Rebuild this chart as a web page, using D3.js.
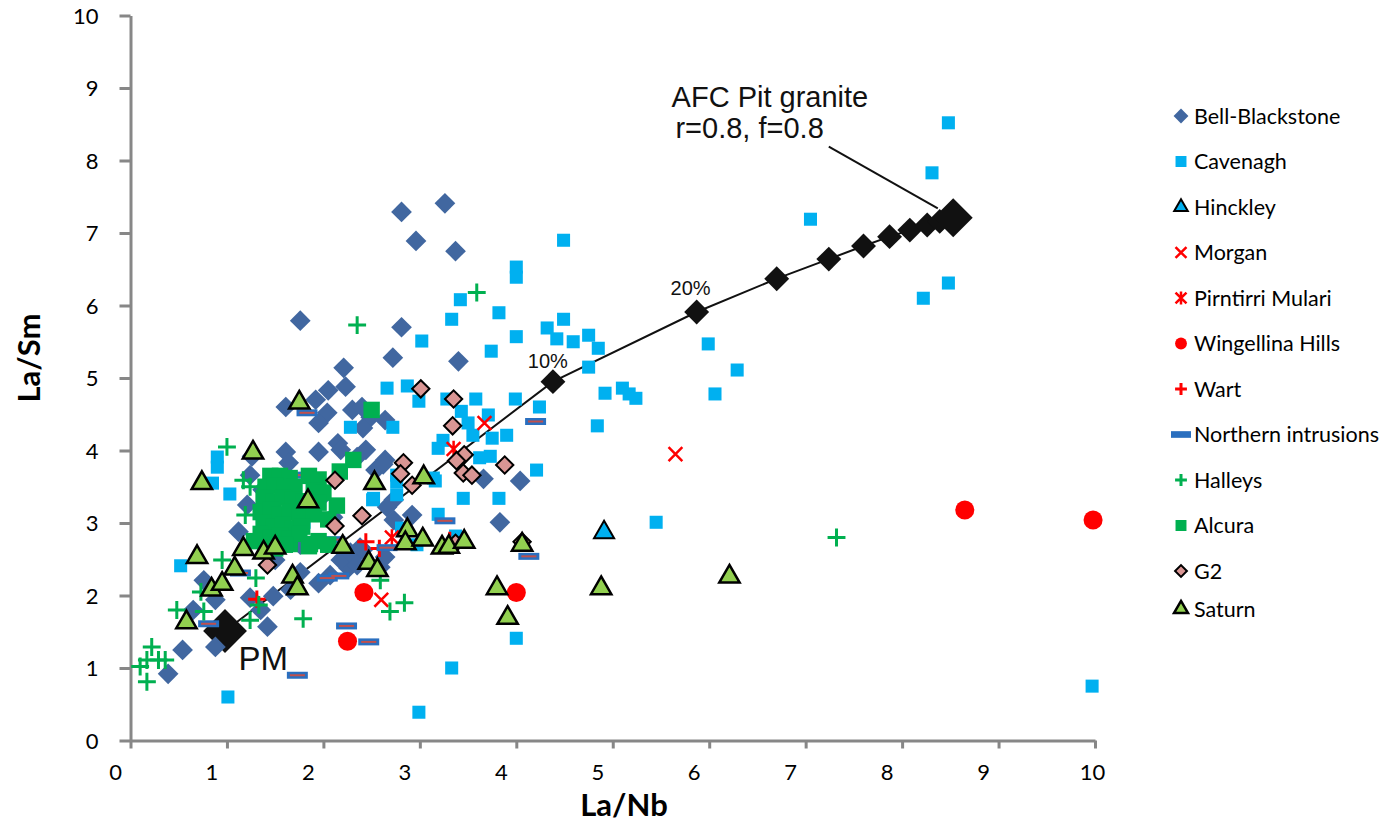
<!DOCTYPE html>
<html>
<head>
<meta charset="utf-8">
<script src="https://cdn.jsdelivr.net/npm/d3@7"></script>
<style>
  html, body { margin: 0; padding: 0; background: #fff; }
  svg { display: block; }
</style>
</head>
<body>
<div id="chart"></div>
<script>
// ---------------- DATA ----------------
const xTicks = [0,1,2,3,4,5,6,7,8,9,10];
const yTicks = [0,1,2,3,4,5,6,7,8,9,10];
const xTitle = "La/Nb";
const yTitle = "La/Sm";

const bellBlackstone = [[2.81,7.29],[3.26,7.41],[2.96,6.89],[3.37,6.75],[1.76,5.79],[2.81,5.70],[2.72,5.28],[3.40,5.23],[2.21,5.14],[2.23,4.88],[2.05,4.83],[1.92,4.70],[1.61,4.60],[2.04,4.52],[1.95,4.38],[2.30,4.56],[2.40,4.60],[2.49,4.46],[2.41,4.31],[2.64,4.42],[2.15,4.10],[2.18,4.01],[1.95,3.98],[1.61,3.98],[1.64,3.83],[1.26,3.92],[2.44,4.01],[2.64,3.87],[2.35,3.91],[2.54,3.73],[3.66,3.61],[4.04,3.58],[2.62,3.81],[2.92,3.11],[3.83,3.01],[2.73,3.32],[2.66,3.22],[2.31,2.53],[2.26,2.38],[2.41,2.63],[1.12,2.88],[1.21,3.25],[0.76,2.21],[0.88,1.94],[0.65,1.80],[0.54,1.25],[0.39,0.92],[0.88,1.29],[1.24,1.97],[1.42,1.57],[1.48,1.99],[1.95,2.17],[1.35,1.80],[2.18,2.49],[2.10,3.08],[2.28,2.59],[2.38,2.66],[2.35,2.42],[2.59,2.39],[2.64,2.53],[2.73,3.04],[1.37,3.46],[1.24,3.66],[1.76,2.70],[1.50,2.49],[1.76,2.32],[1.66,2.08],[1.35,2.77],[2.07,2.28],[1.97,3.34],[1.50,3.11]];

const cavenagh = [[8.48,8.52],[8.31,7.83],[7.05,7.19],[8.22,6.10],[8.48,6.31],[4.49,6.90],[4.00,6.53],[4.00,6.39],[3.42,6.08],[3.33,5.81],[3.82,5.90],[3.02,5.51],[3.74,5.37],[4.00,5.57],[4.32,5.69],[4.49,5.81],[4.42,5.54],[4.59,5.50],[4.75,5.59],[4.85,5.41],[4.75,5.15],[5.99,5.47],[6.29,5.11],[6.06,4.78],[4.92,4.79],[5.10,4.86],[5.17,4.78],[5.24,4.72],[4.84,4.34],[5.45,3.01],[2.66,4.86],[2.87,4.89],[2.99,4.68],[3.28,4.71],[3.58,4.71],[3.99,4.71],[4.24,4.60],[2.28,4.32],[2.72,4.32],[3.43,4.54],[3.50,4.38],[3.71,4.49],[3.55,4.21],[3.75,4.17],[3.90,4.21],[3.24,4.14],[3.19,4.03],[3.62,3.90],[3.73,3.92],[4.21,3.73],[2.76,3.66],[3.14,3.62],[2.76,3.57],[3.16,3.58],[2.51,3.32],[2.76,3.39],[3.45,3.34],[3.82,3.34],[3.19,3.12],[2.81,2.93],[3.37,2.82],[2.97,2.70],[4.00,1.41],[3.33,1.00],[2.99,0.39],[9.97,0.75],[1.01,0.60],[0.52,2.41],[0.90,3.91],[0.90,3.77],[0.85,3.55],[1.03,3.40],[1.80,3.01],[2.52,3.34]];

const hinckley = [[4.91,2.87]];
const morgan = [[5.65,3.95],[2.60,1.94],[3.67,4.38]];
const pirntirriMulari = [[3.35,4.02],[2.71,2.80]];
const wingellinaHills = [[8.65,3.18],[9.98,3.04],[2.42,2.04],[4.00,2.04],[2.25,1.37]];
const wart = [[2.44,2.74],[2.58,2.65],[1.31,1.95],[3.31,2.76]];
const northernIntrusions = [[3.26,3.03],[4.13,2.54],[2.24,1.58],[2.47,1.36],[4.20,4.40],[0.81,1.61],[1.73,0.90],[1.14,2.31],[2.04,2.24],[2.16,2.27],[1.83,4.52],[1.73,3.66],[2.12,2.77],[2.66,2.66]];
const halleys = [[3.59,6.18],[2.35,5.73],[1.00,4.05],[1.17,3.59],[1.19,3.11],[0.95,2.49],[1.30,2.24],[0.73,2.05],[0.48,1.80],[0.76,1.78],[1.33,1.87],[1.24,1.66],[1.79,1.68],[0.22,1.29],[0.17,1.11],[0.29,1.11],[0.36,1.11],[0.10,1.02],[0.17,0.81],[1.24,3.50],[2.59,2.21],[2.84,1.90],[2.69,1.78],[7.32,2.80]];
const alcura = [[2.50,4.56],[2.31,3.87],[2.17,3.71],[2.14,3.24],[1.86,2.71],[1.65,2.71],
  [1.45,3.65],[1.55,3.65],[1.65,3.62],[1.85,3.65],[1.95,3.60],
  [1.40,3.50],[1.50,3.52],[1.60,3.48],[1.70,3.50],[1.90,3.45],[2.00,3.42],
  [1.38,3.35],[1.48,3.30],[1.58,3.35],[1.68,3.32],[1.80,3.30],[1.95,3.28],
  [1.35,3.15],[1.45,3.18],[1.55,3.12],[1.65,3.15],[1.75,3.10],[1.90,3.12],[2.05,3.05],
  [1.38,3.00],[1.48,2.95],[1.58,2.98],[1.68,2.92],[1.78,2.95],
  [1.35,2.85],[1.45,2.80],[1.55,2.82],[1.65,2.78],[1.75,2.85],[1.95,2.75],[2.05,2.70],
  [1.40,2.68],[1.50,2.65],[1.60,2.70],[1.85,2.68],[1.28,2.75]];
const g2 = [[3.01,4.85],[3.35,4.71],[3.34,4.34],[3.46,3.94],[3.38,3.86],[2.83,3.83],[2.80,3.68],[2.92,3.52],[3.45,3.69],[3.54,3.66],[3.88,3.80],[2.40,3.10],[3.37,2.72],[4.06,2.74],[2.12,3.59],[2.12,2.96],[1.42,2.42]];
const saturn = [[1.75,4.66],[1.27,3.97],[0.74,3.55],[1.84,3.30],[2.53,3.55],[3.04,3.63],[0.69,2.53],[1.17,2.64],[1.08,2.37],[1.38,2.59],[1.50,2.66],[1.68,2.26],[1.73,2.10],[0.84,2.08],[0.95,2.16],[0.58,1.63],[2.20,2.67],[2.47,2.45],[2.56,2.35],[2.87,2.90],[2.85,2.72],[3.03,2.77],[3.23,2.66],[3.30,2.67],[3.46,2.74],[4.06,2.70],[3.80,2.10],[3.91,1.69],[4.88,2.10],[6.21,2.26]];

// AFC model curve (PM -> Pit granite)
const afcPit = [[0.98,1.51],[4.38,4.95],[5.87,5.91],[6.70,6.37],[7.24,6.64],[7.60,6.82],[7.87,6.95],[8.08,7.04],[8.26,7.11],[8.39,7.16],[8.53,7.21]];

// ---------------- CHART ----------------
const W = 1400, H = 825;
const svg = d3.select("#chart").append("svg").attr("width", W).attr("height", H);
svg.append("rect").attr("width", W).attr("height", H).attr("fill", "#fff");

const x = d3.scaleLinear().domain([0, 10]).range([130.5, 1095]);
const y = d3.scaleLinear().domain([0, 10]).range([740.5, 15.5]);

const axisColor = "#878787";
const tickFont = "Lato, 'DejaVu Sans', sans-serif";

// Axes
const gx = svg.append("g").attr("transform", `translate(0,${y(0)})`)
  .call(d3.axisBottom(x).tickValues(xTicks).tickSize(8).tickSizeOuter(0).tickFormat(d => d));
const gy = svg.append("g").attr("transform", `translate(${x(0)},0)`)
  .call(d3.axisLeft(y).tickValues(yTicks).tickSize(11).tickSizeOuter(0).tickFormat(d => d));
[gx, gy].forEach(g => {
  g.select(".domain").attr("stroke", axisColor).attr("stroke-width", 3);
  g.selectAll(".tick line").attr("stroke", axisColor).attr("stroke-width", 3);
  g.selectAll(".tick text").attr("fill", "#000").style("font-family", tickFont).style("font-size", "22px");
});
gx.selectAll(".tick text").attr("y", 32).attr("dy", "0.35em")
  .attr("x", d => d === 10 ? -3 : -15.5);
gy.selectAll(".tick text").attr("x", -32).attr("dy", "0.35em");

// Axis titles
svg.append("text").attr("x", 624).attr("y", 816).attr("text-anchor", "middle")
  .style("font-family", tickFont).style("font-weight", "bold").style("font-size", "31px").text(xTitle);
svg.append("text").attr("transform", "translate(40,358) rotate(-90)").attr("text-anchor", "middle")
  .style("font-family", tickFont).style("font-weight", "bold").style("font-size", "31px").text(yTitle);

// Custom symbol types
const plusSym = { draw(ctx, size) { const r = Math.sqrt(size) / 2; ctx.moveTo(-r, 0); ctx.lineTo(r, 0); ctx.moveTo(0, -r); ctx.lineTo(0, r); } };
const crossSym = { draw(ctx, size) { const r = Math.sqrt(size) / 2; ctx.moveTo(-r, -r); ctx.lineTo(r, r); ctx.moveTo(-r, r); ctx.lineTo(r, -r); } };
const starSym = { draw(ctx, size) { const r = Math.sqrt(size) / 2; ctx.moveTo(-r, -r); ctx.lineTo(r, r); ctx.moveTo(-r, r); ctx.lineTo(r, -r); ctx.moveTo(0, -r * 1.2); ctx.lineTo(0, r * 1.2); } };
const dashSym = { draw(ctx, size) { const w = Math.sqrt(size); const h = w / 3; ctx.rect(-w / 2, -h / 2, w, h); } };
const dashInner = { draw(ctx, size) { const w = Math.sqrt(size) * 0.72; ctx.moveTo(-w / 2, 0); ctx.lineTo(w / 2, 0); } };

const series = [
  { name: "Bell-Blackstone", data: bellBlackstone, type: d3.symbolSquare, rot: 45, size: 215, legSize: 110, fill: "#4167A0", stroke: "none", sw: 0 },
  { name: "Cavenagh", data: cavenagh, type: d3.symbolSquare, rot: 0, size: 170, legSize: 120, fill: "#00B0F0", stroke: "none", sw: 0 },
  { name: "Hinckley", data: hinckley, type: d3.symbolTriangle, rot: 0, size: 175, legSize: 80, fill: "#00B0F0", stroke: "#000", sw: 2 },
  { name: "Morgan", data: morgan, type: crossSym, rot: 0, size: 190, legSize: 120, fill: "none", stroke: "#FF0000", sw: 2.5 },
  { name: "Pirntirri Mulari", data: pirntirriMulari, type: starSym, rot: 0, size: 190, legSize: 120, fill: "none", stroke: "#FF0000", sw: 2.5 },
  { name: "Wingellina Hills", data: wingellinaHills, type: d3.symbolCircle, rot: 0, size: 285, legSize: 110, fill: "#FF0000", stroke: "none", sw: 0 },
  { name: "Wart", data: wart, type: plusSym, rot: 0, size: 300, legSize: 140, fill: "none", stroke: "#FF0000", sw: 3 },
  { name: "Northern intrusions", data: northernIntrusions, type: dashSym, rot: 0, size: 440, legSize: 400, fill: "#2A6FBF", stroke: "none", sw: 0, inner: true },
  { name: "Halleys", data: halleys, type: plusSym, rot: 0, size: 320, legSize: 140, fill: "none", stroke: "#00B050", sw: 3 },
  { name: "Alcura", data: alcura, type: d3.symbolSquare, rot: 0, size: 270, legSize: 120, fill: "#00B050", stroke: "none", sw: 0 },
  { name: "G2", data: g2, type: d3.symbolSquare, rot: 45, size: 150, legSize: 70, fill: "#D99694", stroke: "#000", sw: 2 },
  { name: "Saturn", data: saturn, type: d3.symbolTriangle, rot: 0, size: 180, legSize: 85, fill: "#92D050", stroke: "#000", sw: 2.5 }
];

// AFC curve (drawn beneath the data)
const afcG = svg.append("g");
afcG.append("path").datum(afcPit)
  .attr("d", d3.line().x(d => x(d[0])).y(d => y(d[1])))
  .attr("fill", "none").attr("stroke", "#111").attr("stroke-width", 2);
afcG.selectAll("path.afc").data(afcPit).join("path").attr("class", "afc")
  .attr("transform", d => `translate(${x(d[0])},${y(d[1])}) rotate(45)`)
  .attr("d", (d, i) => d3.symbol(d3.symbolSquare, (i === 0 ? 960 : i === afcPit.length - 1 ? 760 : 310))())
  .attr("fill", "#111");

// Data series
series.forEach(s => {
  const g = svg.append("g");
  g.selectAll("path").data(s.data).join("path")
    .attr("transform", d => `translate(${x(d[0])},${y(d[1])}) rotate(${s.rot})`)
    .attr("d", d3.symbol(s.type, s.size)())
    .attr("fill", s.fill).attr("stroke", s.stroke).attr("stroke-width", s.sw)
    .attr("stroke-linejoin", "miter");
  if (s.inner) {
    g.selectAll("path.inner").data(s.data).join("path").attr("class", "inner")
      .attr("transform", d => `translate(${x(d[0])},${y(d[1])})`)
      .attr("d", d3.symbol(dashInner, s.size)())
      .attr("stroke", "#C0504D").attr("stroke-width", 2);
  }
});

// Annotations
const annFont = "'Liberation Sans', Arial, sans-serif";
svg.append("text").attr("x", x(5.61)).attr("y", y(8.74)).style("font-family", annFont).style("font-size", "29px").attr("fill", "#111").text("AFC Pit granite");
svg.append("text").attr("x", x(5.65)).attr("y", y(8.31)).style("font-family", annFont).style("font-size", "29px").attr("fill", "#111").text("r=0.8, f=0.8");
svg.append("line").attr("x1", x(7.24)).attr("y1", y(8.19)).attr("x2", x(8.37)).attr("y2", y(7.34)).attr("stroke", "#111").attr("stroke-width", 2);
svg.append("text").attr("x", x(5.60)).attr("y", y(6.14)).style("font-family", annFont).style("font-size", "20px").attr("fill", "#111").text("20%");
svg.append("text").attr("x", x(4.12)).attr("y", y(5.14)).style("font-family", annFont).style("font-size", "20px").attr("fill", "#111").text("10%");
svg.append("text").attr("x", x(1.12)).attr("y", y(0.97)).style("font-family", annFont).style("font-size", "33px").attr("fill", "#111").text("PM");

// Legend
const leg = svg.append("g");
series.forEach((s, i) => {
  const ly = i === series.length - 1 ? 609 : 116 + 45.5 * i;
  const lx = 1181;
  leg.append("path")
    .attr("transform", `translate(${lx},${ly}) rotate(${s.rot})`)
    .attr("d", d3.symbol(s.type, s.legSize)())
    .attr("fill", s.fill).attr("stroke", s.stroke).attr("stroke-width", s.sw);
  leg.append("text").attr("x", 1194).attr("y", ly).attr("dy", "0.35em")
    .style("font-family", tickFont).style("font-size", "21.5px").attr("fill", "#000").text(s.name);
});
</script>
</body>
</html>
